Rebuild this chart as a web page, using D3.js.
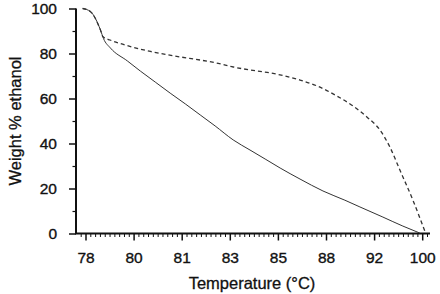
<!DOCTYPE html>
<html>
<head>
<meta charset="utf-8">
<script src="https://cdn.jsdelivr.net/npm/d3@7"></script>
<style>
  body { margin: 0; background: #fff; }
  svg { display: block; font-family: "Liberation Sans", Arial, sans-serif; }
  .tick text { fill: #111; stroke: #111; stroke-width: 0.35px; }
  .axis-label { font-size: 16.5px; fill: #111; stroke: #111; stroke-width: 0.3px; }
</style>
</head>
<body>
<div id="chart"></div>
<script>
const svgWidth = 440;
const svgHeight = 294;

// tick labels (evenly spaced on the axis)
const xTicks = [78, 80, 81, 83, 85, 88, 92, 100];
const yTicks = [0, 20, 40, 60, 80, 100];
const yMinor = [10, 30, 50, 70, 90];

// solid curve
const solidTemp = [77.88, 78.21, 78.62, 78.75, 79.04, 79.74, 80.14, 80.45, 80.76, 81.15, 81.77, 82.39, 83.14, 83.84, 84.47, 85.14, 86.38, 87.81, 89.57, 90.82, 93.46, 96.78, 99.60];
const solidWt   = [100, 98.6, 90.5, 86.6, 82.4, 76.7, 72.2, 67.3, 62.4, 57.6, 52.7, 47.8, 41.6, 37.1, 33.1, 29.1, 24.2, 18.9, 14.8, 11.8, 7.3, 3.3, 0.2];

// dashed curve
const dashTemp = [77.88, 78.21, 78.62, 78.73, 79.02, 79.45, 80.00, 80.35, 80.66, 80.99, 81.77, 82.52, 83.14, 83.84, 84.55, 85.45, 86.38, 87.44, 88.91, 90.24, 91.40, 92.97, 94.63, 96.29, 98.44, 100.43];
const dashWt   = [100, 98.6, 90.5, 87.4, 86.0, 84.4, 82.7, 80.9, 79.6, 78.4, 77.1, 75.6, 74.0, 72.7, 71.6, 70.0, 68.2, 65.6, 61.1, 56.7, 51.8, 46.0, 38.4, 28.2, 14.9, 1.1];

let plot = { left: 76, right: 430, top: 8.5, bottom: 233.5 };

let svg = d3.select('#chart')
    .append('svg')
    .attr('width', svgWidth)
    .attr('height', svgHeight);

// position scale: ticks sit at equal steps
let xIdx = d3.scaleLinear()
    .domain([0, xTicks.length - 1])
    .range([85.5, 422.2]);

// piecewise scale from temperature to pixels
let x = d3.scaleLinear()
    .domain(xTicks)
    .range(xTicks.map((d, i) => xIdx(i)));

let y = d3.scaleLinear()
    .domain([0, 100])
    .range([plot.bottom, plot.top]);

// minor ticks on x axis
let minorX = d3.range(-1, xTicks.length - 1 + 0.2, 0.1)
    .map(v => Math.round(v * 10) / 10)
    .filter(v => Math.abs(v - Math.round(v)) > 0.01)
    .filter(v => xIdx(v) > plot.left + 1 && xIdx(v) < plot.right);

svg.append('g')
    .attr('transform', `translate(0,${plot.bottom})`)
    .call(d3.axisBottom(xIdx).tickValues(minorX).tickSize(3.5).tickFormat(''))
    .call(g => g.select('.domain').remove())
    .selectAll('line').attr('stroke', '#111').attr('stroke-width', 1);

svg.append('g')
    .attr('transform', `translate(0,${plot.bottom})`)
    .call(d3.axisBottom(x).tickValues(xTicks).tickSize(7).tickPadding(11).tickFormat(d3.format('d')))
    .call(g => g.select('.domain').remove())
    .selectAll('line').attr('stroke', '#111').attr('stroke-width', 1.5);

// y axis
svg.append('g')
    .attr('transform', `translate(${plot.left},0)`)
    .call(d3.axisLeft(y).tickValues(yMinor).tickSize(3.5).tickFormat(''))
    .call(g => g.select('.domain').remove())
    .selectAll('line').attr('stroke', '#111').attr('stroke-width', 1.2);

svg.append('g')
    .attr('transform', `translate(${plot.left},0)`)
    .call(d3.axisLeft(y).tickValues(yTicks).tickSize(7).tickPadding(12))
    .call(g => g.select('.domain').remove())
    .selectAll('line').attr('stroke', '#111').attr('stroke-width', 1.5);

// axis lines
svg.append('path')
    .attr('d', `M${plot.left},${plot.top}V${plot.bottom}H${plot.right}`)
    .attr('fill', 'none')
    .attr('stroke', '#111')
    .attr('stroke-width', 2);

svg.selectAll('.tick text').attr('font-size', 15.5);

let line = d3.line()
    .x(d => x(d[0]))
    .y(d => y(d[1]))
    .curve(d3.curveMonotoneX);

svg.append('path')
    .datum(solidTemp.map((t, i) => [t, solidWt[i]]))
    .attr('d', line)
    .attr('fill', 'none')
    .attr('stroke', '#333')
    .attr('stroke-width', 1);

svg.append('path')
    .datum(dashTemp.map((t, i) => [t, dashWt[i]]))
    .attr('d', line)
    .attr('fill', 'none')
    .attr('stroke', '#333')
    .attr('stroke-width', 1.3)
    .attr('stroke-dasharray', '4,3');

svg.append('text')
    .attr('class', 'axis-label')
    .attr('text-anchor', 'middle')
    .attr('transform', `translate(21,121)rotate(-90)`)
    .text('Weight % ethanol');

svg.append('text')
    .attr('class', 'axis-label')
    .attr('text-anchor', 'middle')
    .attr('x', 252)
    .attr('y', 289)
    .text('Temperature (°C)');
</script>
</body>
</html>
